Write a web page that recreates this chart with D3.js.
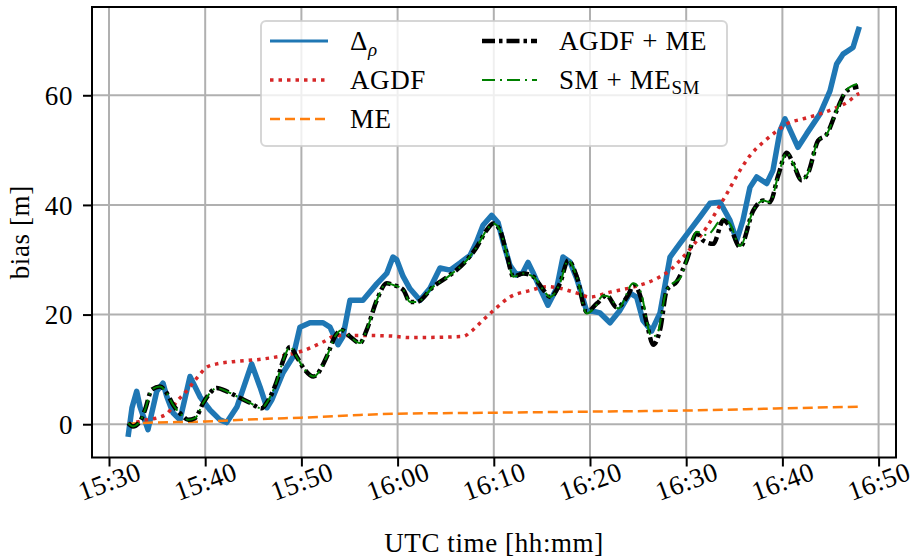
<!DOCTYPE html>
<html>
<head>
<meta charset="utf-8">
<script src="https://cdn.jsdelivr.net/npm/d3@7"></script>
<style>
  html, body { margin: 0; padding: 0; background: #fff; }
  svg { display: block; }
  text { font-family: "Liberation Serif", "DejaVu Serif", serif; fill: #000; letter-spacing: 0.6px; }
</style>
</head>
<body>
<svg id="chart" width="914" height="559"></svg>
<script>
// ---- Data (time = minutes after 15:30 UTC, bias in metres) ----
const xTickLabels = ["15:30","15:40","15:50","16:00","16:10","16:20","16:30","16:40","16:50"];
const yTickValues = [0, 20, 40, 60];

const deltaT = [1.98, 2.39, 2.88, 3.22, 4.05, 4.96, 5.61, 6.00, 6.65, 7.38, 8.42, 9.46, 10.5, 11.54, 12.23, 13.31, 14.83, 15.70, 16.42, 16.94, 18.09, 19.13, 19.85, 20.89, 22.25, 22.97, 23.80, 24.32, 25.05, 26.40, 27.83, 28.87, 29.52, 29.91, 30.56, 31.29, 31.99, 32.33, 33.37, 34.41, 35.45, 36.49, 37.53, 38.22, 38.88, 39.78, 40.44, 40.96, 41.68, 42.38, 43.04, 43.56, 44.07, 44.80, 45.63, 46.54, 47.19, 47.92, 48.62, 49.66, 50.31, 51.04, 52.08, 53.12, 54.16, 54.85, 55.51, 56.41, 57.28, 58.32, 59.36, 60.40, 61.43, 62.47, 63.51, 64.55, 65.25, 65.90, 66.63, 67.33, 68.37, 69.02, 69.75, 70.27, 70.97, 71.62, 72.53, 73.91, 74.95, 75.64, 76.30, 77.34, 77.86, 78.0];
const deltaV = [-2.3, 3.0, 6.0, 3.2, -1.0, 6.0, 7.5, 5.1, 2.1, 0.8, 8.7, 5.0, 2.6, 0.8, 0.3, 3.2, 11.0, 6.8, 3.0, 4.5, 9.4, 12.3, 17.7, 18.5, 18.5, 17.7, 14.5, 16.0, 22.6, 22.6, 25.6, 27.5, 30.5, 30.0, 27.0, 24.7, 23.3, 22.6, 24.8, 28.5, 28.1, 29.4, 30.8, 33.3, 36.3, 38.1, 36.8, 33.3, 29.0, 27.2, 27.7, 29.5, 27.7, 24.8, 21.7, 24.8, 30.5, 29.6, 26.6, 20.6, 20.6, 20.3, 18.5, 20.8, 23.9, 23.2, 18.9, 17.0, 20.3, 30.5, 33.0, 35.4, 37.8, 40.3, 40.5, 37.2, 33.5, 37.2, 43.2, 45.1, 43.9, 46.3, 53.5, 55.7, 53.0, 50.5, 53.0, 56.6, 60.8, 65.7, 67.5, 68.7, 71.7, 72.5];

const agdfT = [1.98, 3.92, 5.09, 6.0, 7.17, 8.08, 9.12, 10.16, 11.20, 12.89, 16.0, 18.09, 20.17, 22.25, 23.67, 25.75, 29.21, 31.29, 36.80, 37.63, 38.77, 40.12, 41.68, 43.76, 45.53, 46.88, 48.65, 50.0, 52.08, 54.89, 56.96, 58.32, 59.36, 60.71, 62.16, 63.20, 64.24, 65.59, 66.63, 67.98, 69.44, 70.48, 72.14, 73.91, 75.26, 76.72, 77.86, 78.0];
const agdfV = [0, 0.8, 1.2, 1.9, 4.4, 6.1, 8.4, 10.4, 11.0, 11.4, 11.9, 12.5, 13.4, 15.0, 16.2, 16.2, 16.1, 15.8, 16.0, 16.9, 18.8, 21.0, 23.2, 24.4, 25.1, 24.8, 23.9, 23.2, 24.1, 25.2, 26.6, 28.1, 29.9, 32.6, 36.0, 39.0, 42.1, 46.3, 49.0, 51.4, 53.5, 54.8, 55.7, 56.6, 57.5, 58.7, 60.2, 60.3];

const meT = [1.98, 3, 10, 16.5, 20, 25, 29.5, 40, 50, 60, 70, 78];
const meV = [0, 0.2, 0.5, 1.0, 1.2, 1.6, 1.9, 2.1, 2.3, 2.5, 2.9, 3.2];

const agdfmeT = [2.0, 2.49, 3.22, 3.74, 4.44, 5.30, 6.0, 6.68, 7.56, 8.24, 8.94, 9.80, 10.5, 11.20, 12.23, 13.27, 14.66, 15.87, 16.39, 17.43, 18.12, 18.82, 19.51, 20.37, 21.24, 22.63, 23.49, 24.19, 25.05, 26.09, 26.79, 27.83, 28.87, 29.55, 30.59, 31.29, 31.99, 33.71, 35.45, 37.18, 38.22, 39.26, 39.95, 40.64, 41.34, 42.03, 43.07, 44.11, 45.15, 45.84, 46.88, 47.74, 48.62, 49.66, 50.70, 51.74, 52.78, 53.95, 54.57, 55.30, 55.90, 56.58, 57.28, 58.0, 59.01, 60.05, 61.09, 61.78, 62.82, 63.86, 64.55, 65.59, 66.98, 68.02, 68.71, 69.57, 70.45, 71.13, 72.0, 72.69, 73.70, 74.61, 75.64, 76.68, 77.89];
const agdfmeV = [0.2, -0.4, 0.5, 2.6, 6.3, 6.9, 5.7, 3.5, 1.7, 0.8, 1.1, 3.9, 5.7, 6.6, 6.0, 5.1, 3.9, 2.9, 3.9, 7.8, 11.7, 14.1, 12.3, 9.9, 8.7, 12.3, 16.0, 17.2, 16.0, 14.8, 17.2, 22.6, 25.7, 25.4, 24.5, 22.3, 22.3, 25.1, 27.2, 29.9, 32.3, 35.4, 36.6, 35.4, 31.1, 26.9, 27.5, 26.9, 24.5, 23.2, 25.7, 29.9, 26.9, 20.5, 22.0, 23.5, 21.3, 23.5, 25.4, 23.0, 18.4, 14.5, 17.2, 24.5, 26.0, 29.9, 34.8, 33.5, 32.9, 37.2, 36.0, 32.3, 39.0, 40.8, 40.5, 45.4, 49.5, 47.5, 44.5, 45.9, 51.7, 52.9, 57.2, 60.8, 61.6];

const smmeT = [2.0, 2.49, 3.22, 3.74, 4.44, 5.30, 6.0, 6.68, 7.56, 8.24, 8.94, 9.80, 10.5, 11.20, 12.23, 13.27, 14.66, 15.87, 16.39, 17.43, 18.12, 18.82, 19.51, 20.37, 21.24, 22.63, 23.49, 24.19, 25.05, 26.09, 26.79, 27.83, 28.87, 29.55, 30.59, 31.29, 31.99, 33.71, 35.45, 37.18, 38.22, 39.26, 39.95, 40.64, 41.34, 42.03, 43.07, 44.11, 45.15, 45.84, 46.88, 47.74, 48.62, 49.66, 50.52, 51.38, 52.08, 52.94, 54.50, 55.20, 56.41, 56.93, 57.97, 58.84, 59.36, 60.05, 61.09, 62.13, 63.86, 64.55, 65.59, 66.98, 68.02, 68.71, 69.57, 70.45, 71.13, 72.0, 72.69, 73.70, 74.61, 75.64, 76.68, 77.89];
const smmeV = [0.2, -0.4, 0.5, 2.6, 6.3, 6.9, 5.7, 3.5, 1.7, 0.8, 1.1, 3.9, 5.7, 6.6, 6.0, 5.1, 3.9, 2.9, 3.9, 7.8, 11.7, 14.1, 12.3, 9.9, 8.7, 12.3, 16.0, 17.2, 16.0, 14.8, 17.2, 22.6, 25.7, 25.4, 24.5, 22.3, 22.3, 25.1, 27.2, 29.9, 32.3, 35.4, 36.6, 35.4, 31.1, 26.9, 27.5, 26.9, 24.5, 23.2, 25.7, 29.9, 26.9, 20.2, 21.4, 23.5, 23.2, 21.1, 25.7, 24.5, 16.0, 16.3, 24.5, 26.0, 26.6, 29.9, 35.1, 34.5, 37.5, 36.6, 32.5, 39.0, 40.8, 40.5, 45.4, 49.5, 47.5, 44.5, 45.9, 51.7, 52.9, 57.2, 61.0, 62.1];

// ---- Helpers ----
const base = new Date(2000, 0, 1, 15, 30, 0);
const toDate = m => new Date(base.getTime() + m * 60000);
const parseTick = s => { const [h, mm] = s.split(":").map(Number); return new Date(2000, 0, 1, h, mm, 0); };
const zip = (ts, vs) => ts.map((t, i) => ({ t: toDate(t), v: vs[i] }));

// ---- Layout ----
const svg = d3.select("#chart");
const L = 92, R = 896, T = 7, B = 457.5;
const FS = "27px";

const x = d3.scaleTime().domain([toDate(-1.767), toDate(81.81)]).range([L, R]);
const y = d3.scaleLinear().domain([-6.07, 76.1]).range([B, T]);

// grid
const grid = svg.append("g");
xTickLabels.forEach(s => {
  const xx = x(parseTick(s));
  grid.append("line").attr("x1", xx).attr("x2", xx).attr("y1", T).attr("y2", B)
    .attr("stroke", "#b0b0b0").attr("stroke-width", 2);
});
yTickValues.forEach(v => {
  grid.append("line").attr("x1", L).attr("x2", R).attr("y1", y(v)).attr("y2", y(v))
    .attr("stroke", "#b0b0b0").attr("stroke-width", 2);
});

// lines
const lineLin = d3.line().x(d => x(d.t)).y(d => y(d.v));
const lineSm = d3.line().x(d => x(d.t)).y(d => y(d.v)).curve(d3.curveMonotoneX);

const plot = svg.append("g");
plot.append("path").datum(zip(deltaT, deltaV)).attr("d", lineLin)
  .attr("fill", "none").attr("stroke", "#1f77b4").attr("stroke-width", 5.5).attr("stroke-linejoin", "round");
plot.append("path").datum(zip(agdfT, agdfV)).attr("d", lineSm)
  .attr("fill", "none").attr("stroke", "#d62728").attr("stroke-width", 3.5).attr("stroke-dasharray", "3.5,5");
plot.append("path").datum(zip(meT, meV)).attr("d", lineSm)
  .attr("fill", "none").attr("stroke", "#ff7f0e").attr("stroke-width", 2.5).attr("stroke-dasharray", "10,5");
plot.append("path").datum(zip(agdfmeT, agdfmeV)).attr("d", lineSm)
  .attr("fill", "none").attr("stroke", "#000").attr("stroke-width", 4.5).attr("stroke-dasharray", "13,4,3.5,4");
plot.append("path").datum(zip(smmeT, smmeV)).attr("d", lineSm)
  .attr("fill", "none").attr("stroke", "#008000").attr("stroke-width", 2).attr("stroke-dasharray", "13,5,2,5");

// axes
const xAxis = d3.axisBottom(x).tickValues(xTickLabels.map(parseTick))
  .tickFormat(d3.timeFormat("%H:%M")).tickSize(9).tickSizeOuter(0);
const gx = svg.append("g").attr("transform", `translate(0,${B})`).call(xAxis);
gx.select(".domain").remove();
gx.selectAll(".tick line").attr("stroke", "#000").attr("stroke-width", 2);
gx.selectAll(".tick text").each(function() {
  const t = d3.select(this);
  t.attr("y", null).attr("dy", null).attr("text-anchor", "middle")
   .attr("dominant-baseline", "central")
   .attr("transform", "translate(0,24) rotate(-20)")
   .style("font-size", FS).style("font-family", '"Liberation Serif", serif');
});

const yAxis = d3.axisLeft(y).tickValues(yTickValues).tickSize(9).tickSizeOuter(0);
const gy = svg.append("g").attr("transform", `translate(${L},0)`).call(yAxis);
gy.select(".domain").remove();
gy.selectAll(".tick line").attr("stroke", "#000").attr("stroke-width", 2);
gy.selectAll(".tick text").attr("x", -19).attr("dy", "0.34em")
  .style("font-size", FS).style("font-family", '"Liberation Serif", serif');

// frame
svg.append("rect").attr("x", L).attr("y", T).attr("width", R - L).attr("height", B - T)
  .attr("fill", "none").attr("stroke", "#000").attr("stroke-width", 2);

// axis labels
svg.append("text").attr("x", (L + R) / 2).attr("y", 552).attr("text-anchor", "middle")
  .style("font-size", FS).text("UTC time [hh:mm]");
svg.append("text").attr("transform", `translate(29,${(T + B) / 2}) rotate(-90)`).attr("text-anchor", "middle")
  .style("font-size", FS).text("bias [m]");

// legend
const lg = svg.append("g");
lg.append("rect").attr("x", 261).attr("y", 21).attr("width", 466).attr("height", 125).attr("rx", 5)
  .attr("fill", "#fff").attr("fill-opacity", 0.8).attr("stroke", "#cccccc").attr("stroke-opacity", 0.8).attr("stroke-width", 2);

const entries = [
  { x1: 270, x2: 328, y: 41, stroke: "#1f77b4", w: 3, dash: null, label: "delta" },
  { x1: 270, x2: 328, y: 80, stroke: "#d62728", w: 3.5, dash: "3.5,5", label: "AGDF" },
  { x1: 270, x2: 328, y: 119, stroke: "#ff7f0e", w: 2.5, dash: "10,5", label: "ME" },
  { x1: 482, x2: 537, y: 41, stroke: "#000", w: 4.5, dash: "13,4,3.5,4", label: "AGDF + ME" },
  { x1: 482, x2: 537, y: 80, stroke: "#008000", w: 2, dash: "13,5,2,5", label: "sm" }
];
entries.forEach(e => {
  const ln = lg.append("line").attr("x1", e.x1).attr("x2", e.x2).attr("y1", e.y).attr("y2", e.y)
    .attr("stroke", e.stroke).attr("stroke-width", e.w);
  if (e.dash) ln.attr("stroke-dasharray", e.dash);
  const tx = lg.append("text").attr("x", e.x2 + 22).attr("y", e.y + 9).style("font-size", FS);
  if (e.label === "delta") {
    tx.append("tspan").text("Δ");
    tx.append("tspan").attr("dy", 6).style("font-size", "19px").style("font-style", "italic").text("ρ");
  } else if (e.label === "sm") {
    tx.append("tspan").text("SM + ME");
    tx.append("tspan").attr("dy", 5).style("font-size", "19px").text("SM");
  } else {
    tx.text(e.label);
  }
});
</script>
</body>
</html>
